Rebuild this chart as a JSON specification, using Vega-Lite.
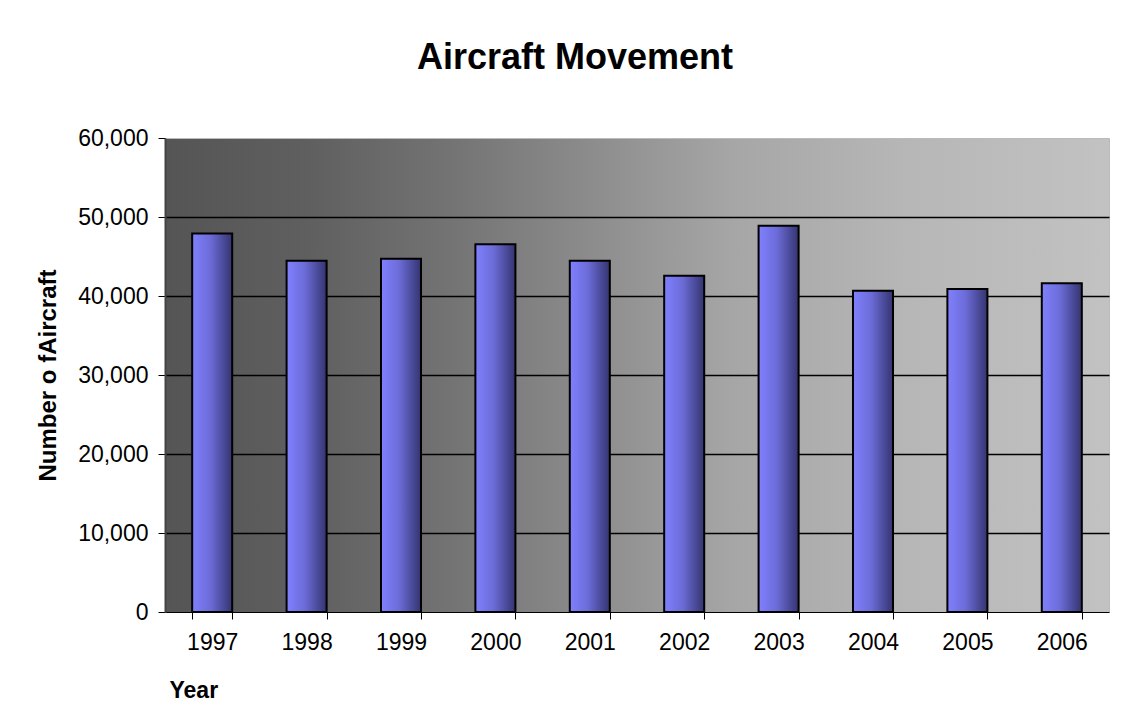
{
  "$schema": "https://vega.github.io/schema/vega-lite/v6.json",
  "autosize": {"type": "none"},
  "width": 944,
  "height": 474,
  "padding": {"left": 165, "top": 138, "right": 21, "bottom": 115},
  "background": "white",
  "config": {
    "font": "Liberation Sans",
    "view": {
      "stroke": "#bbbbbb",
      "strokeWidth": 1,
      "fill": {
        "gradient": "linear", "x1": 0, "x2": 1, "y1": 0, "y2": 0,
        "stops": [
          {"offset": 0, "color": "#555555"},
          {"offset": 0.15, "color": "#5f5f5f"},
          {"offset": 0.3, "color": "#737373"},
          {"offset": 0.45, "color": "#8c8c8c"},
          {"offset": 0.6, "color": "#a6a6a6"},
          {"offset": 0.78, "color": "#b6b6b6"},
          {"offset": 1, "color": "#c2c2c2"}
        ]
      }
    }
  },
  "title": {
    "text": "Aircraft Movement",
    "fontSize": 36,
    "fontWeight": "bold",
    "color": "black",
    "anchor": "middle",
    "dx": -62,
    "offset": 50
  },
  "data": {
    "values": [
      {"year": "1997", "aircraft": 47900},
      {"year": "1998", "aircraft": 44450},
      {"year": "1999", "aircraft": 44700},
      {"year": "2000", "aircraft": 46550},
      {"year": "2001", "aircraft": 44450},
      {"year": "2002", "aircraft": 42550},
      {"year": "2003", "aircraft": 48900},
      {"year": "2004", "aircraft": 40650},
      {"year": "2005", "aircraft": 40900},
      {"year": "2006", "aircraft": 41600}
    ]
  },
  "mark": {
    "type": "bar",
    "stroke": "black",
    "strokeWidth": 2,
    "color": {
      "gradient": "linear", "x1": 0, "x2": 1, "y1": 0, "y2": 0,
      "stops": [
        {"offset": 0, "color": "#8080ff"},
        {"offset": 0.45, "color": "#6c6cd8"},
        {"offset": 1, "color": "#343470"}
      ]
    }
  },
  "encoding": {
    "x": {
      "field": "year",
      "type": "ordinal",
      "scale": {"paddingInner": 0.576, "paddingOuter": 0.288},
      "axis": {
        "title": "Year",
        "titleFontSize": 23,
        "titleFontWeight": "bold",
        "titleColor": "black",
        "titleAnchor": "start",
        "titleAlign": "left",
        "titleBaseline": "middle",
        "titleX": 4,
        "titleY": 78,
        "labelAngle": 0,
        "labelFontSize": 23,
        "labelColor": "black",
        "labelPadding": 12,
        "tickBand": "extent",
        "tickSize": 7,
        "tickColor": "black",
        "domainColor": "black",
        "domainWidth": 1
      }
    },
    "y": {
      "field": "aircraft",
      "type": "quantitative",
      "scale": {"domain": [0, 60000], "nice": false},
      "axis": {
        "title": "Number o fAircraft",
        "titleFontSize": 24,
        "titleFontWeight": "bold",
        "titleColor": "black",
        "titlePadding": 17,
        "values": [0, 10000, 20000, 30000, 40000, 50000, 60000],
        "format": ",d",
        "labelFontSize": 23,
        "labelColor": "black",
        "labelPadding": 10,
        "tickSize": 7,
        "tickColor": "black",
        "domainColor": "#444444",
        "domainWidth": 2,
        "grid": true,
        "gridColor": {"condition": {"test": "datum.value === 0 || datum.value === 60000", "value": "transparent"}, "value": "black"},
        "gridWidth": 1.5,
        "gridOpacity": 1
      }
    }
  }
}
